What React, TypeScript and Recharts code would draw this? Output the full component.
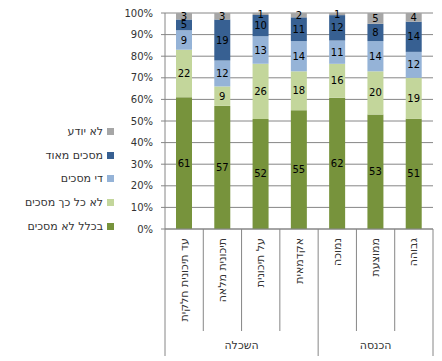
import React from 'react';
import { BarChart, Bar, XAxis, YAxis, CartesianGrid, LabelList, Legend } from 'recharts';

const categories = ['עד תיכונית חלקית', 'תיכונית מלאה', 'על תיכונית', 'אקדמאית', 'נמוכה', 'ממוצעת', 'גבוהה'];
const groups = ['השכלה', 'השכלה', 'השכלה', 'השכלה', 'הכנסה', 'הכנסה', 'הכנסה'];
const notAtAll = [61, 57, 52, 55, 62, 53, 51];
const notSoMuch = [22, 9, 26, 18, 16, 20, 19];
const somewhat = [9, 12, 13, 14, 11, 14, 12];
const veryMuch = [5, 19, 10, 11, 12, 8, 14];
const dontKnow = [3, 3, 1, 2, 1, 5, 4];
const seriesKeys = ['s1', 's2', 's3', 's4', 's5'];
const seriesNames = ['בכלל לא מסכים', 'לא כל כך מסכים', 'די מסכים', 'מסכים מאוד', 'לא יודע'];
const seriesColors = ['#77933C', '#C3D69B', '#95B3D7', '#376092', '#A6A6A6'];
const yTicks = [0, 0.1, 0.2, 0.3, 0.4, 0.5, 0.6, 0.7, 0.8, 0.9, 1];

const data = categories.map((c, i) => ({
  cat: c,
  group: groups[i],
  s1: notAtAll[i],
  s2: notSoMuch[i],
  s3: somewhat[i],
  s4: veryMuch[i],
  s5: dontKnow[i],
}));

const W = 442;
const H = 361;
const MARGIN = { top: 13, right: 9, bottom: 0, left: 0 };
const Y_AXIS_W = 165;
const X_AXIS_H = 132;
const PLOT_LEFT = MARGIN.left + Y_AXIS_W;
const PLOT_RIGHT = W - MARGIN.right;
const BAND = (PLOT_RIGHT - PLOT_LEFT) / categories.length;
const LINE = '#868686';
const TEXT = '#333333';

function CategoryTick(props: any) {
  const { x, y, index } = props;
  const i = index as number;
  const isGroupStart = i === 0 || groups[i] !== groups[i - 1];
  const isLast = i === categories.length - 1;
  let groupLabel: React.ReactNode = null;
  if (isGroupStart) {
    let n = 0;
    while (i + n < groups.length && groups[i + n] === groups[i]) n++;
    groupLabel = (
      <text x={x + ((n - 1) * BAND) / 2} y={y + 116} textAnchor="middle" dominantBaseline="central" fontSize={11} fill={TEXT}>
        {groups[i]}
      </text>
    );
  }
  return (
    <g>
      <line x1={x - BAND / 2} x2={x - BAND / 2} y1={y} y2={y + (isGroupStart ? 127 : 102)} stroke={LINE} />
      {isLast && <line x1={x + BAND / 2} x2={x + BAND / 2} y1={y} y2={y + 127} stroke={LINE} />}
      <text
        x={x}
        y={y + 9}
        transform={`rotate(-90, ${x}, ${y + 9})`}
        textAnchor="end"
        dominantBaseline="central"
        fontSize={11}
        fill={TEXT}
      >
        {categories[i]}
      </text>
      {groupLabel}
    </g>
  );
}

function LegendContent() {
  const items = seriesNames.map((n, i) => ({ n, c: seriesColors[i] })).reverse();
  return (
    <div style={{ width: 114 }}>
      {items.map((it) => (
        <div
          key={it.n}
          style={{
            height: 23.6,
            display: 'flex',
            alignItems: 'center',
            justifyContent: 'flex-end',
            fontSize: 11,
            color: TEXT,
          }}
        >
          <span style={{ direction: 'rtl' }}>{it.n}</span>
          <span style={{ display: 'inline-block', width: 7, height: 7, background: it.c, marginLeft: 4 }} />
        </div>
      ))}
    </div>
  );
}

export default function App() {
  return (
    <div style={{ position: 'absolute', left: 0, top: 0, width: W, height: H, fontFamily: '"DejaVu Sans", sans-serif', background: '#fff' }}>
      <BarChart width={W} height={H} data={data} margin={MARGIN} stackOffset="expand">
        <CartesianGrid vertical={false} stroke={LINE} strokeDasharray="" />
        <XAxis
          dataKey="cat"
          height={X_AXIS_H}
          interval={0}
          tickLine={false}
          tickSize={0}
          tickMargin={0}
          axisLine={{ stroke: LINE }}
          tick={<CategoryTick />}
        />
        <YAxis
          width={Y_AXIS_W}
          domain={[0, 1]}
          ticks={yTicks}
          interval={0}
          tickFormatter={(v: number) => `${Math.round(v * 100)}%`}
          axisLine={{ stroke: LINE }}
          tickLine={{ stroke: LINE }}
          tickSize={4}
          tickMargin={8}
          tick={{ fontSize: 10, fill: TEXT }}
        />
        <Legend
          layout="vertical"
          align="center"
          verticalAlign="middle"
          content={<LegendContent />}
          wrapperStyle={{ left: 0, top: 120, width: 114 }}
        />
        {seriesKeys.map((k, i) => (
          <Bar key={k} dataKey={k} name={seriesNames[i]} stackId="a" fill={seriesColors[i]} barSize={16} isAnimationActive={false}>
            <LabelList dataKey={k} position="center" fill="#000" fontSize={10} />
          </Bar>
        ))}
      </BarChart>
    </div>
  );
}
